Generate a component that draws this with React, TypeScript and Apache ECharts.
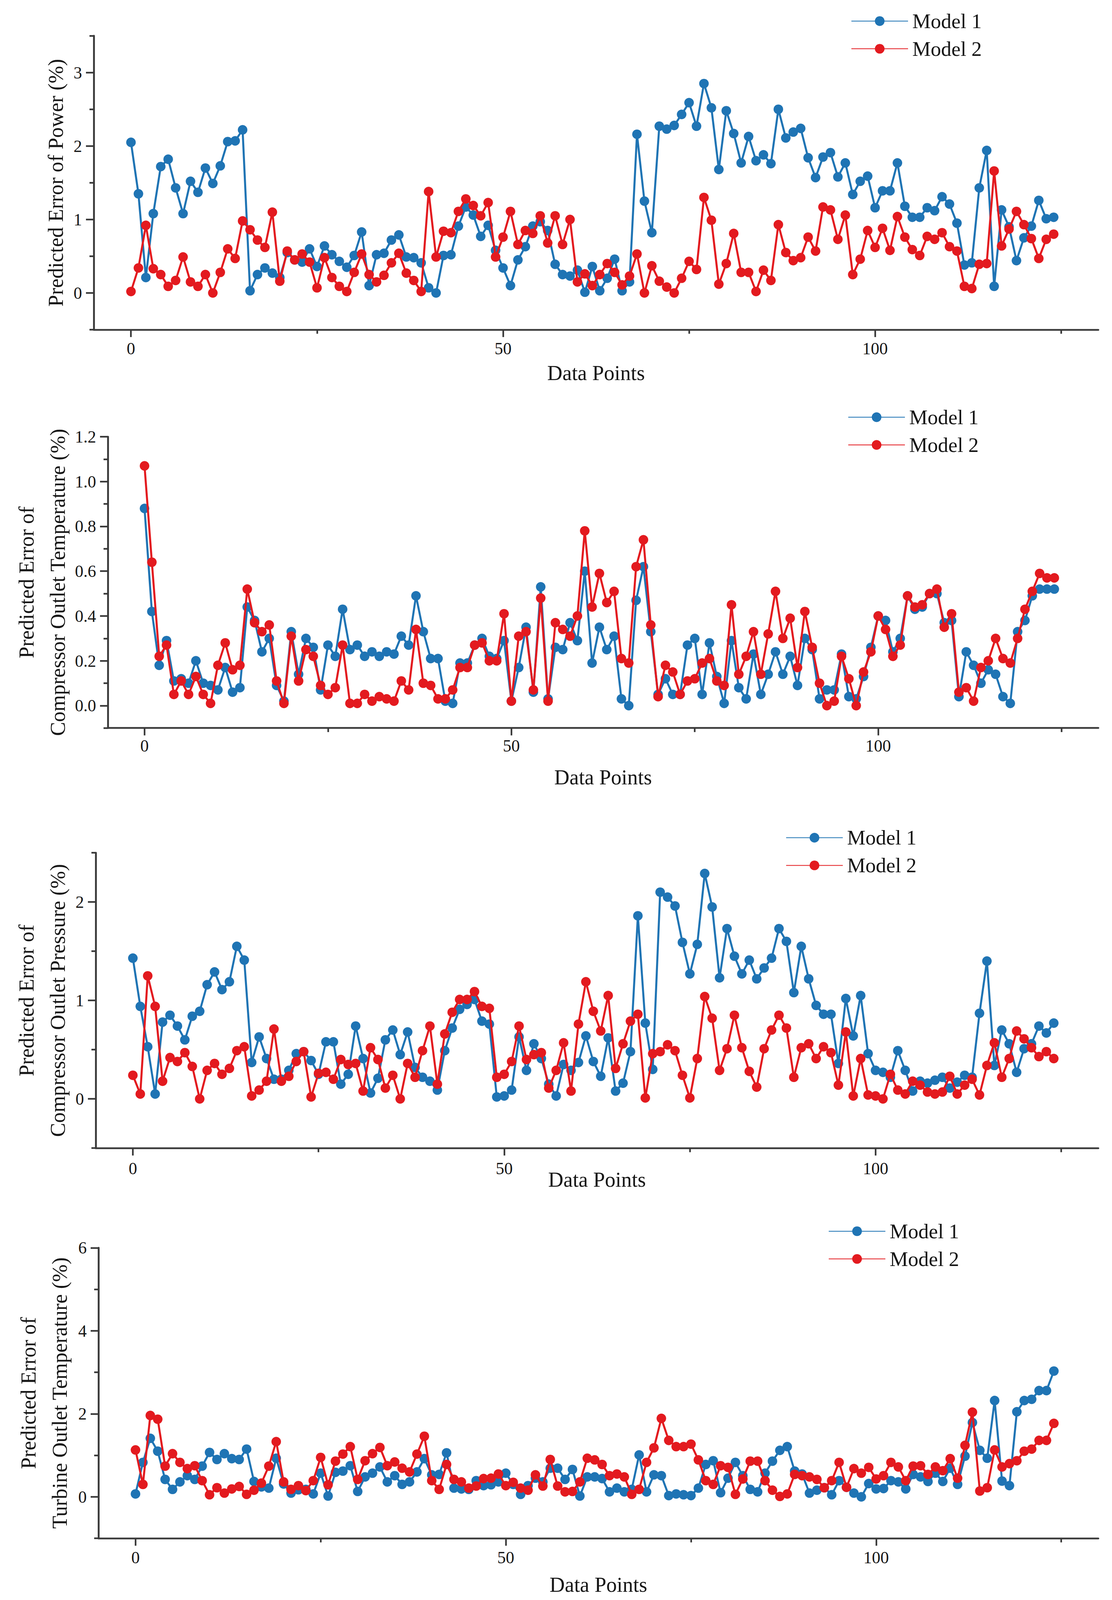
import React, { useEffect, useRef } from "react";
import * as echarts from "echarts";

// ---------------- data ----------------
const X_MAJOR = [0, 50, 100];
const X_MINOR = [25, 75, 125];

const powerModel1 = [2.05,1.35,0.21,1.08,1.72,1.82,1.43,1.08,1.52,1.37,1.70,1.49,1.73,2.06,2.07,2.22,0.03,0.25,0.34,0.27,0.21,0.55,0.45,0.42,0.60,0.36,0.64,0.52,0.43,0.35,0.51,0.83,0.10,0.52,0.54,0.72,0.79,0.49,0.48,0.41,0.07,0.00,0.51,0.52,0.91,1.17,1.06,0.77,0.92,0.58,0.34,0.10,0.45,0.63,0.91,0.97,0.85,0.39,0.25,0.23,0.31,0.01,0.36,0.03,0.20,0.46,0.03,0.15,2.16,1.25,0.82,2.27,2.23,2.28,2.43,2.59,2.27,2.85,2.52,1.68,2.48,2.17,1.77,2.13,1.80,1.88,1.76,2.50,2.11,2.19,2.24,1.84,1.57,1.85,1.91,1.58,1.77,1.34,1.52,1.59,1.16,1.39,1.39,1.77,1.18,1.03,1.03,1.16,1.12,1.31,1.21,0.95,0.38,0.41,1.43,1.94,0.09,1.13,0.90,0.44,0.75,0.91,1.26,1.01,1.03];
const powerModel2 = [0.02,0.34,0.92,0.33,0.25,0.09,0.17,0.49,0.15,0.09,0.25,0.00,0.28,0.60,0.47,0.98,0.86,0.72,0.62,1.10,0.16,0.57,0.45,0.53,0.42,0.07,0.48,0.21,0.09,0.02,0.28,0.53,0.25,0.15,0.24,0.41,0.54,0.27,0.17,0.02,1.38,0.49,0.84,0.82,1.11,1.28,1.19,1.05,1.23,0.49,0.76,1.11,0.66,0.85,0.81,1.05,0.68,1.05,0.66,1.00,0.15,0.26,0.10,0.25,0.40,0.28,0.11,0.23,0.53,0.00,0.37,0.16,0.08,0.00,0.20,0.43,0.32,1.30,0.99,0.12,0.40,0.81,0.28,0.28,0.02,0.31,0.17,0.93,0.55,0.44,0.48,0.76,0.57,1.17,1.13,0.73,1.06,0.25,0.46,0.85,0.62,0.88,0.58,1.04,0.76,0.59,0.51,0.77,0.73,0.82,0.63,0.57,0.09,0.06,0.39,0.40,1.66,0.64,0.87,1.11,0.93,0.74,0.47,0.73,0.80];

const cotModel1 = [0.88,0.42,0.18,0.29,0.11,0.12,0.10,0.20,0.10,0.09,0.07,0.17,0.06,0.08,0.44,0.38,0.24,0.30,0.09,0.02,0.33,0.14,0.30,0.26,0.07,0.27,0.22,0.43,0.25,0.27,0.22,0.24,0.22,0.24,0.23,0.31,0.27,0.49,0.33,0.21,0.21,0.02,0.01,0.19,0.19,0.27,0.30,0.22,0.21,0.29,0.02,0.17,0.35,0.06,0.53,0.03,0.26,0.25,0.37,0.29,0.60,0.19,0.35,0.25,0.31,0.03,0.00,0.47,0.62,0.33,0.05,0.12,0.05,0.05,0.27,0.30,0.05,0.28,0.13,0.01,0.29,0.08,0.03,0.23,0.05,0.14,0.24,0.14,0.22,0.09,0.30,0.25,0.03,0.07,0.07,0.23,0.04,0.03,0.13,0.26,0.40,0.38,0.24,0.30,0.49,0.43,0.44,0.50,0.50,0.37,0.38,0.04,0.24,0.18,0.10,0.16,0.14,0.04,0.01,0.33,0.38,0.49,0.52,0.52,0.52];
const cotModel2 = [1.07,0.64,0.22,0.27,0.05,0.11,0.05,0.13,0.05,0.01,0.18,0.28,0.16,0.18,0.52,0.37,0.33,0.36,0.11,0.01,0.31,0.11,0.25,0.22,0.09,0.05,0.08,0.27,0.01,0.01,0.05,0.02,0.04,0.03,0.02,0.11,0.07,0.34,0.10,0.09,0.03,0.03,0.07,0.17,0.17,0.27,0.28,0.20,0.20,0.41,0.02,0.31,0.33,0.07,0.48,0.02,0.37,0.34,0.31,0.40,0.78,0.44,0.59,0.46,0.51,0.21,0.19,0.62,0.74,0.36,0.04,0.18,0.15,0.05,0.11,0.12,0.19,0.21,0.11,0.09,0.45,0.14,0.22,0.33,0.14,0.32,0.51,0.30,0.39,0.17,0.42,0.26,0.10,0.00,0.02,0.22,0.12,0.00,0.15,0.24,0.40,0.34,0.22,0.27,0.49,0.44,0.45,0.50,0.52,0.35,0.41,0.06,0.08,0.02,0.17,0.20,0.30,0.21,0.19,0.30,0.43,0.51,0.59,0.57,0.57];

const copModel1 = [1.43,0.94,0.53,0.05,0.78,0.85,0.74,0.60,0.84,0.89,1.16,1.29,1.11,1.19,1.55,1.41,0.37,0.63,0.41,0.20,0.20,0.29,0.46,0.48,0.39,0.25,0.58,0.58,0.15,0.25,0.74,0.41,0.06,0.21,0.60,0.70,0.45,0.68,0.32,0.22,0.18,0.09,0.49,0.72,0.91,0.96,1.01,0.79,0.76,0.02,0.03,0.09,0.63,0.29,0.56,0.41,0.15,0.03,0.35,0.29,0.37,0.64,0.38,0.23,0.62,0.08,0.16,0.48,1.86,0.77,0.30,2.10,2.05,1.96,1.59,1.27,1.57,2.29,1.95,1.23,1.73,1.45,1.27,1.41,1.22,1.33,1.43,1.73,1.60,1.08,1.55,1.22,0.95,0.86,0.86,0.36,1.02,0.64,1.05,0.46,0.29,0.27,0.22,0.49,0.29,0.08,0.18,0.16,0.19,0.22,0.11,0.17,0.24,0.22,0.87,1.40,0.34,0.70,0.56,0.27,0.51,0.56,0.74,0.67,0.77];
const copModel2 = [0.24,0.05,1.25,0.94,0.18,0.42,0.38,0.47,0.33,0.00,0.29,0.36,0.25,0.31,0.49,0.53,0.03,0.09,0.18,0.71,0.18,0.23,0.38,0.48,0.02,0.26,0.27,0.20,0.40,0.35,0.36,0.08,0.52,0.40,0.11,0.24,0.00,0.36,0.22,0.49,0.74,0.15,0.66,0.88,1.01,1.01,1.09,0.94,0.92,0.22,0.25,0.38,0.74,0.40,0.45,0.47,0.11,0.29,0.57,0.08,0.76,1.19,0.89,0.69,1.05,0.31,0.56,0.79,0.86,0.01,0.46,0.48,0.55,0.49,0.24,0.01,0.41,1.04,0.82,0.29,0.51,0.85,0.52,0.28,0.12,0.51,0.70,0.85,0.72,0.22,0.52,0.56,0.41,0.53,0.47,0.14,0.68,0.03,0.41,0.04,0.03,0.00,0.25,0.09,0.05,0.18,0.14,0.07,0.05,0.07,0.23,0.05,0.14,0.20,0.04,0.34,0.57,0.22,0.41,0.69,0.61,0.52,0.43,0.48,0.41];

const totModel1 = [0.07,0.83,1.41,1.10,0.42,0.18,0.36,0.51,0.42,0.74,1.07,0.90,1.04,0.92,0.90,1.15,0.37,0.24,0.21,0.93,0.31,0.09,0.17,0.18,0.07,0.57,0.02,0.59,0.62,0.75,0.13,0.48,0.57,0.72,0.36,0.51,0.30,0.36,0.60,0.92,0.53,0.54,1.06,0.21,0.19,0.18,0.39,0.27,0.29,0.36,0.57,0.30,0.06,0.27,0.45,0.36,0.69,0.69,0.42,0.66,0.02,0.48,0.48,0.44,0.12,0.21,0.12,0.18,1.01,0.12,0.53,0.51,0.03,0.07,0.05,0.03,0.21,0.78,0.87,0.10,0.45,0.83,0.51,0.18,0.12,0.57,0.86,1.12,1.21,0.62,0.55,0.09,0.16,0.22,0.05,0.39,0.23,0.09,0.00,0.32,0.19,0.20,0.39,0.36,0.19,0.54,0.48,0.37,0.57,0.37,0.69,0.30,0.98,1.79,1.12,0.93,2.32,0.38,0.27,2.05,2.32,2.35,2.56,2.56,3.03];
const totModel2 = [1.13,0.30,1.96,1.87,0.74,1.04,0.83,0.68,0.75,0.39,0.05,0.22,0.09,0.19,0.25,0.06,0.16,0.33,0.74,1.33,0.36,0.18,0.27,0.15,0.39,0.95,0.29,0.86,1.03,1.21,0.42,0.87,1.04,1.19,0.75,0.84,0.69,0.60,1.03,1.46,0.39,0.18,0.78,0.42,0.36,0.21,0.26,0.44,0.45,0.55,0.27,0.35,0.21,0.16,0.53,0.26,0.90,0.26,0.12,0.13,0.36,0.93,0.89,0.78,0.51,0.55,0.48,0.06,0.18,0.83,1.18,1.89,1.36,1.21,1.21,1.27,0.89,0.39,0.30,0.75,0.71,0.06,0.43,0.86,0.86,0.39,0.16,0.01,0.07,0.54,0.51,0.48,0.42,0.22,0.39,0.83,0.23,0.68,0.57,0.71,0.43,0.51,0.83,0.72,0.39,0.74,0.75,0.54,0.72,0.63,0.92,0.45,1.24,2.04,0.14,0.22,1.13,0.72,0.80,0.87,1.10,1.15,1.36,1.36,1.77];

const yTitles = [
  "Predicted Error of Power (%)",
  "Predicted Error of\nCompressor Outlet Temperature (%)",
  "Predicted Error of\nCompressor Outlet Pressure (%)",
  "Predicted Error of\nTurbine Outlet Temperature (%)",
];
const yMajorTicks = [
  [0, 1, 2, 3],
  [0, 0.2, 0.4, 0.6, 0.8, 1.0, 1.2],
  [0, 1, 2],
  [0, 2, 4, 6],
];
const yMinorTicks = [
  [-0.5, 0.5, 1.5, 2.5, 3.5],
  [-0.1, 0.1, 0.3, 0.5, 0.7, 0.9, 1.1],
  [-0.5, 0.5, 1.5, 2.5],
  [-1, 1, 3, 5],
];
const yRanges = [
  [-0.5, 3.5],
  [-0.1, 1.2],
  [-0.5, 2.5],
  [-1, 6],
];
const yDecimals = [0, 1, 0, 0];
const model1Sets = [powerModel1, cotModel1, copModel1, totModel1];
const model2Sets = [powerModel2, cotModel2, copModel2, totModel2];
const seriesNames = ["Model 1", "Model 2"];

// ---------------- layout / style (designed for a 2846 x 4334 page) ----------------
const BASE_W = 2846;
const BASE_H = 4334;
const FONT = "'Liberation Serif', 'Times New Roman', serif";
const BLUE = "#1f74b4";
const RED = "#e31a1f";
const AXIS = "#3a3a3a";
const TEXT = "#151515";

const grids = [
  { left: 240, top: 97, width: 2571, height: 796 },
  { left: 276, top: 1183, width: 2535, height: 789 },
  { left: 245, top: 2310, width: 2566, height: 800 },
  { left: 252, top: 3380, width: 2559, height: 794 },
];
const yNameGaps = [57, 88, 57, 59];
const xNameGaps = [78, 94, 46, 86];
const xLabelMargins = [28, 25, 32, 29];
const legendPos = [
  { left: 2178, top: 29 },
  { left: 2170, top: 1102 },
  { left: 2011, top: 2241 },
  { left: 2120, top: 3307 },
];

function buildOption(sx: number, sy: number) {
  const s = Math.min(sx, sy);
  const X = (v: number) => v * sx;
  const Y = (v: number) => v * sy;
  const F = (v: number) => v * s;
  const xAxis: any[] = [];
  const yAxis: any[] = [];
  const series: any[] = [];
  const legend: any[] = [];
  grids.forEach((g, i) => {
    xAxis.push({
      type: "value",
      gridIndex: i,
      min: -5,
      max: 130,
      position: "bottom",
      axisLine: { show: true, onZero: false, lineStyle: { color: AXIS, width: F(5) } },
      axisTick: { show: true, customValues: X_MAJOR, length: Y(20), lineStyle: { color: AXIS, width: F(4.5) } },
      axisLabel: {
        customValues: X_MAJOR,
        fontSize: F(46),
        fontFamily: FONT,
        color: TEXT,
        margin: Y(xLabelMargins[i]),
      },
      splitLine: { show: false },
      name: "Data Points",
      nameLocation: "middle",
      nameGap: Y(xNameGaps[i]),
      nameMoveOverlap: false,
      nameTextStyle: { fontSize: F(57), fontFamily: FONT, color: TEXT, lineHeight: Y(80) },
    });
    xAxis.push({
      type: "value",
      gridIndex: i,
      min: -5,
      max: 130,
      position: "bottom",
      axisLine: { show: false, onZero: false },
      axisTick: { show: true, customValues: X_MINOR, length: Y(11), lineStyle: { color: AXIS, width: F(4.5) } },
      axisLabel: { show: false },
      splitLine: { show: false },
    });
    const dec = yDecimals[i];
    yAxis.push({
      type: "value",
      gridIndex: i,
      min: yRanges[i][0],
      max: yRanges[i][1],
      position: "left",
      axisLine: { show: true, onZero: false, lineStyle: { color: AXIS, width: F(5) } },
      axisTick: { show: true, customValues: yMajorTicks[i], length: X(20), lineStyle: { color: AXIS, width: F(4.5) } },
      axisLabel: {
        customValues: yMajorTicks[i],
        formatter: (v: number) => v.toFixed(dec),
        fontSize: F(46),
        fontFamily: FONT,
        color: TEXT,
        margin: X(30),
      },
      splitLine: { show: false },
      name: yTitles[i],
      nameLocation: "middle",
      nameRotate: 90,
      nameGap: X(yNameGaps[i]),
      nameMoveOverlap: false,
      nameTextStyle: { fontSize: F(57), fontFamily: FONT, color: TEXT, lineHeight: X(80), align: "center" },
    });
    yAxis.push({
      type: "value",
      gridIndex: i,
      min: yRanges[i][0],
      max: yRanges[i][1],
      position: "left",
      axisLine: { show: false, onZero: false },
      axisTick: { show: true, customValues: yMinorTicks[i], length: X(11), lineStyle: { color: AXIS, width: F(4.5) } },
      axisLabel: { show: false },
      splitLine: { show: false },
    });
    const sets = [model1Sets[i], model2Sets[i]];
    const colors = [BLUE, RED];
    sets.forEach((vals, k) => {
      series.push({
        type: "line",
        name: seriesNames[k],
        xAxisIndex: 2 * i,
        yAxisIndex: 2 * i,
        data: vals.map((v, idx) => [idx, v]),
        symbol: "circle",
        symbolSize: F(26),
        showSymbol: true,
        lineStyle: { color: colors[k], width: F(5.5) },
        itemStyle: { color: colors[k] },
        z: 2 + k,
      });
    });
    legend.push({
      orient: "vertical",
      left: X(legendPos[i].left),
      top: Y(legendPos[i].top),
      padding: 0,
      itemWidth: X(145),
      itemHeight: F(33),
      itemGap: Y(19),
      selectedMode: false,
      data: seriesNames,
      textStyle: { fontSize: F(56), fontFamily: FONT, color: TEXT, padding: [0, 0, 0, X(6)] },
    });
  });
  return {
    animation: false,
    backgroundColor: "#ffffff",
    grid: grids.map((g) => ({
      left: X(g.left),
      top: Y(g.top),
      width: X(g.width),
      height: Y(g.height),
      containLabel: false,
    })),
    xAxis,
    yAxis,
    legend,
    series,
  };
}

export default function App() {
  const ref = useRef<HTMLDivElement>(null);
  useEffect(() => {
    document.body.style.margin = "0";
    document.documentElement.style.overflow = "hidden";
    const el = ref.current;
    if (!el) return;
    const w = el.clientWidth || BASE_W;
    const h = el.clientHeight || BASE_H;
    const chart = echarts.init(el, undefined, { renderer: "svg", width: w, height: h });
    chart.setOption(buildOption(w / BASE_W, h / BASE_H) as any);
    return () => chart.dispose();
  }, []);
  return <div ref={ref} style={{ width: "100vw", height: "100vh", background: "#fff" }} />;
}
